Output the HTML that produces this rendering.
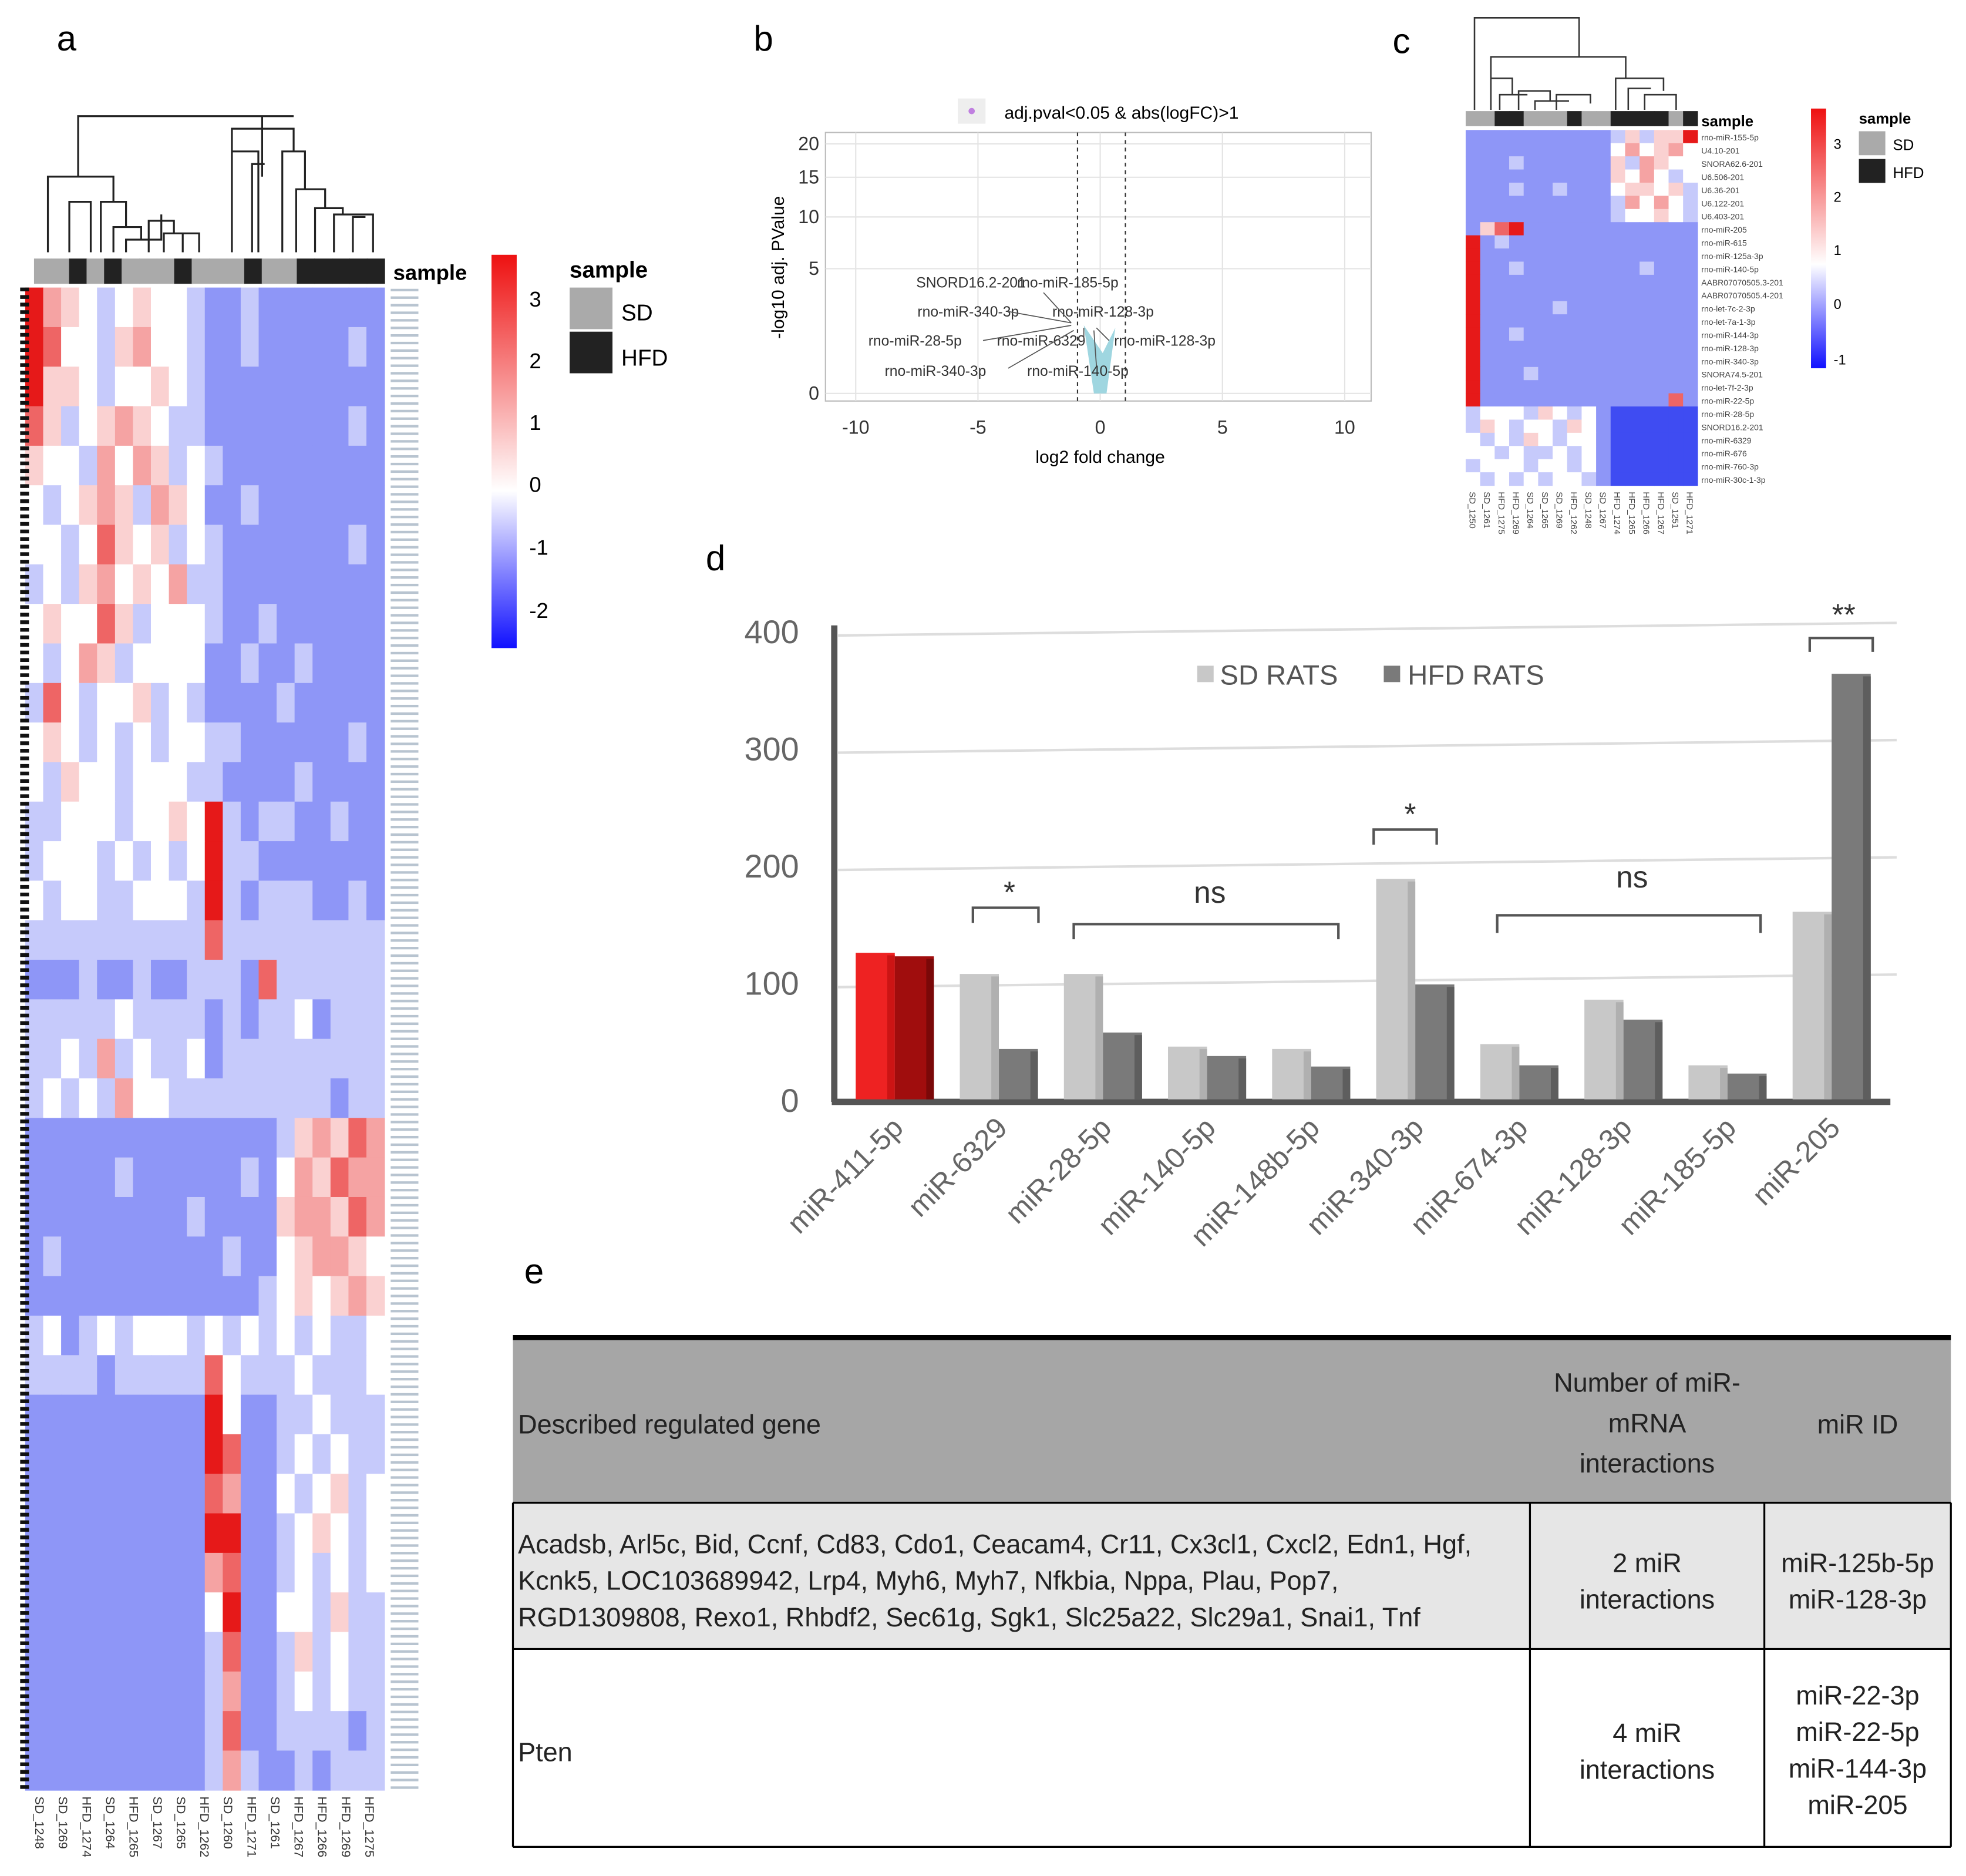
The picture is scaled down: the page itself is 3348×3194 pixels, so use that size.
<!DOCTYPE html>
<html><head><meta charset="utf-8">
<style>
html,body{margin:0;padding:0;background:#fff}
svg{display:block;font-family:"Liberation Sans",sans-serif}
</style></head>
<body>
<svg id="fig" width="3348" height="3194" viewBox="0 0 1560 1488" xmlns="http://www.w3.org/2000/svg">
<defs>
<linearGradient id="cbar" x1="0" y1="1" x2="0" y2="0">
<stop offset="0" stop-color="#1010ff"/><stop offset="0.4" stop-color="#ffffff"/><stop offset="1" stop-color="#ee1111"/>
</linearGradient>
</defs>
<g id="pa">
<text x="45" y="40" font-size="28">a</text>
<path fill="none" stroke="#222" stroke-width="1.5" d="M62,140V92H208V140 M38,200V140H90V160 M55,200V160H72V200 M80,200V160H100V180 M90,200V180H112V190 M100,200V190H128V170 M118,200V175H138V185 M130,200V185H158V200 M145,200V185H150 M184,200V102H233V120 M184,200V120H205V200 M200,200V130H210 M224,200V120H242V150 M235,200V150H258V165 M250,200V165H272V170 M265,200V170H296V200 M280,200V172H290 M208,102V92H233 M233,102V120"/>
<text x="312" y="222" font-size="17" font-weight="bold">sample</text>
<g>
<rect x="390" y="202" width="20" height="312" fill="url(#cbar)"/>
<text x="420" y="243" font-size="17">3</text><text x="420" y="292" font-size="17">2</text>
<text x="420" y="341" font-size="17">1</text><text x="420" y="390" font-size="17">0</text>
<text x="420" y="440" font-size="17">-1</text><text x="420" y="490" font-size="17">-2</text>
<text x="452" y="220" font-size="18" font-weight="bold">sample</text>
<rect x="452" y="228" width="34" height="33" fill="#aaa"/><text x="493" y="254" font-size="18">SD</text>
<rect x="452" y="263" width="34" height="33" fill="#222"/><text x="493" y="290" font-size="18">HFD</text>
</g>
<g id="hma"></g>
</g>

<g id="pb">
<text x="598" y="40" font-size="28">b</text>
<rect x="760" y="78" width="22" height="20" fill="#eee"/><circle cx="771" cy="88" r="2.5" fill="#c080e0"/>
<text x="797" y="94" font-size="14">adj.pval&lt;0.05 &amp; abs(logFC)&gt;1</text>
<rect x="655" y="105" width="433" height="213" fill="#fff" stroke="#bbb"/>
<g id="vgrid"></g>
<line x1="855" y1="105" x2="855" y2="318" stroke="#333" stroke-dasharray="3,3"/>
<line x1="893" y1="105" x2="893" y2="318" stroke="#333" stroke-dasharray="3,3"/>
<text x="873" y="367" font-size="14" text-anchor="middle">log2 fold change</text>
<text transform="translate(622,212) rotate(-90)" font-size="14" text-anchor="middle">-log10 adj. PValue</text>
<path d="M860,258 L875,280 L885,260 L878,312 L868,312 Z" fill="#9fd6e0"/>
<g font-size="11.5" fill="#333">
<text x="727" y="228">SNORD16.2-201</text><text x="807" y="228">rno-miR-185-5p</text>
<text x="728" y="251">rno-miR-340-3p</text><text x="835" y="251">rno-miR-128-3p</text>
<text x="689" y="274">rno-miR-28-5p</text><text x="791" y="274">rno-miR-6329</text><text x="884" y="274">rno-miR-128-3p</text>
<text x="702" y="298">rno-miR-340-3p</text><text x="815" y="298">rno-miR-140-5p</text>
</g>
<path d="M828,232 L850,256 M800,247 L850,256 M780,270 L850,258 M860,270 L860,260 M880,270 L870,260 M800,292 L852,262 M870,290 L868,262" stroke="#555" fill="none" stroke-width="0.8"/>
</g>

<g id="pc">
<text x="1105" y="42" font-size="28">c</text>
<path fill="none" stroke="#333" stroke-width="1.2" d="M1170,87V14H1253V45 M1183,87V45H1290V62 M1183,87V62H1200V75 M1190,87V75H1212 M1205,87V72H1230V80 M1218,87V80H1245 M1235,87V75H1262V82 M1282,87V62H1320V72 M1292,87V70H1310 M1305,87V75H1330V87"/>
<g id="hmc"></g>
<text x="1350" y="100" font-size="12" font-weight="bold">sample</text>
<g>
<rect x="1437" y="86" width="12" height="206" fill="url(#cbar)"/>
<text x="1455" y="118" font-size="11">3</text><text x="1455" y="160" font-size="11">2</text>
<text x="1455" y="202" font-size="11">1</text><text x="1455" y="245" font-size="11">0</text>
<text x="1455" y="289" font-size="11">-1</text>
<text x="1475" y="98" font-size="12" font-weight="bold">sample</text>
<rect x="1475" y="104" width="21" height="19" fill="#aaa"/><text x="1502" y="119" font-size="12">SD</text>
<rect x="1475" y="126" width="21" height="19" fill="#222"/><text x="1502" y="141" font-size="12">HFD</text>
</g>
</g>

<g id="pd">
<text x="560" y="452" font-size="28">d</text>
<g id="bars"></g>
<g>
<rect x="950" y="528" width="13" height="13" fill="#c8c8c8"/><text x="968" y="543" font-size="22" fill="#555">SD RATS</text>
<rect x="1098" y="528" width="13" height="13" fill="#7a7a7a"/><text x="1117" y="543" font-size="22" fill="#555">HFD RATS</text>
</g>
<g fill="none" stroke="#555" stroke-width="2">
<path d="M772,732V720H824V732"/><path d="M852,745V733H1062V745"/><path d="M1090,670V658H1140V670"/>
<path d="M1188,740V726H1397V740"/><path d="M1436,517V506H1486V517"/>
</g>
<g font-size="24" fill="#333" text-anchor="middle">
<text x="801" y="716">*</text><text x="960" y="716">ns</text><text x="1119" y="654">*</text>
<text x="1295" y="704">ns</text><text x="1463" y="496">**</text>
</g>
</g>

<g id="pe">
<text x="416" y="1018" font-size="28">e</text>
<rect x="407" y="1063" width="1141" height="129" fill="#a6a6a6"/>
<rect x="407" y="1192" width="1141" height="116" fill="#e6e6e6"/>
<line x1="407" y1="1061" x2="1548" y2="1061" stroke="#000" stroke-width="4"/>
<path d="M407,1192H1548 M407,1308H1548 M407,1465H1548 M407,1192V1465 M1548,1192V1465 M1214,1192V1465 M1400,1192V1465" stroke="#000" stroke-width="1.5" fill="none"/>
<g font-size="21" fill="#222">
<text x="411" y="1137">Described regulated gene</text>
<text x="1307" y="1104" text-anchor="middle">Number of miR-</text>
<text x="1307" y="1136" text-anchor="middle">mRNA</text>
<text x="1307" y="1168" text-anchor="middle">interactions</text>
<text x="1474" y="1137" text-anchor="middle">miR ID</text>
<text x="411" y="1232">Acadsb, Arl5c, Bid, Ccnf, Cd83, Cdo1, Ceacam4, Cr11, Cx3cl1, Cxcl2, Edn1, Hgf,</text>
<text x="411" y="1261">Kcnk5, LOC103689942,  Lrp4, Myh6, Myh7, Nfkbia, Nppa, Plau, Pop7,</text>
<text x="411" y="1290">RGD1309808,  Rexo1, Rhbdf2, Sec61g, Sgk1, Slc25a22, Slc29a1, Snai1, Tnf</text>
<text x="1307" y="1247" text-anchor="middle">2 miR</text><text x="1307" y="1276" text-anchor="middle">interactions</text>
<text x="1474" y="1247" text-anchor="middle">miR-125b-5p</text><text x="1474" y="1276" text-anchor="middle">miR-128-3p</text>
<text x="411" y="1397">Pten</text>
<text x="1307" y="1382" text-anchor="middle">4 miR</text><text x="1307" y="1411" text-anchor="middle">interactions</text>
<text x="1474" y="1352" text-anchor="middle">miR-22-3p</text><text x="1474" y="1381" text-anchor="middle">miR-22-5p</text>
<text x="1474" y="1410" text-anchor="middle">miR-144-3p</text><text x="1474" y="1439" text-anchor="middle">miR-205</text>
</g>
</g>
</svg>
<script>
const NS="http://www.w3.org/2000/svg";
function mk(tag,attrs,parent){const e=document.createElementNS(NS,tag);for(const k in attrs)e.setAttribute(k,attrs[k]);parent.appendChild(e);return e;}
function col(v){
  let r,g,b;
  if(v>=0){const t=Math.min(v/3,1);r=255-t*(255-230);g=255-t*(255-25);b=255-t*(255-25);}
  else{const t=Math.min(-v/2,1);r=255-t*(255-30);g=255-t*(255-45);b=255-t*(255-240);}
  return `rgb(${r|0},${g|0},${b|0})`;
}
const hmaCodes={a:-1.7,b:-1.0,c:-0.5,d:0,e:0.6,f:1.2,g:2,h:3};
const hmaSamples=["SD","SD","HFD","SD","HFD","SD","SD","SD","HFD","SD","SD","SD","HFD","SD","SD","HFD","HFD","HFD","HFD","HFD"];
const hmaRows=[
"hfedcdeddcbbcbbbbbbb","hgddcefddcbbcbbbbbcb","heedcddedcbbbbbbbbbb","gecdefedccbbbbbbbbcb",
"eddcfdfecdcbbbbbbbbb","dcdefecfedbbcbbbbbbb","ddcdgedecdcbbbbbbbcb","cdcefdedfccbbbbbbbbb",
"deddgecdddcbbcbbbbbb","dcdfecddddbbcbbcbbbb","cgdcddecdcbbbbcbbbbb","dedcdcdcddccbbbbbbcb",
"dceddcdddccbbbbcbbbb","ccdddcddedhcbccbbcbb","cdddcdcdcdhccbbbbbbb","dcddccdddchcbcccbbcb",
"ccccccccccgccccccccc","bbbcbbcbbcccbgcccccc","cccccdccccbcbccdbccc","ccdcfcdccdbccccccccc",
"cdcdcfddcccccccccbcc","bbbbbbbbbbbbbbcefegf","bbbbbcbbbbbbcbdfegff","bbbbbbbbbcbbbbeffegf",
"bcbbbbbbbbbcbbdeffed","bbbbbbbbbbbbbcdedefe","cdbcdcdddcdcdcdcdccd","ccccbcccccgdcccdcccd",
"bbbbbbbbbbhdbbccdccc","bbbbbbbbbbhgbbcdcdcc","bbbbbbbbbbgfbbdcdecd","bbbbbbbbbbhhbbcdedcd",
"bbbbbbbbbbfgbbcdcdcd","bbbbbbbbbbdhbbddcecc","bbbbbbbbbbcgbbcecdcc","bbbbbbbbbbcfbbcdcdcc",
"bbbbbbbbbbcgbbccccbc","bbbbbbbbbbcfcbbcbccc"
];
const hmaLabels=["SD_1248","SD_1269","HFD_1274","SD_1264","HFD_1265","SD_1267","SD_1265","HFD_1262","SD_1260","HFD_1271","SD_1261","HFD_1267","HFD_1266","HFD_1269","HFD_1275"];
(function(){
  const g=document.getElementById('hma');
  const x0=20,x1=305,y0=228,y1=1420;
  const cw=(x1-x0)/hmaSamples.length, rh=(y1-y0)/hmaRows.length;
  hmaSamples.forEach((s,i)=>{
    const r=mk('rect',{x:x0+7+i*(x1-x0-7)/hmaSamples.length,y:205,width:(x1-x0-7)/hmaSamples.length+0.5,height:20,fill:s==="SD"?"#aaa":"#222"},g);
    
    
  });
  hmaRows.forEach((row,ri)=>{
    for(let ci=0;ci<row.length;ci++){
      const c=mk('rect',{x:x0+ci*cw,y:y0+ri*rh,width:cw+0.4,height:rh+0.4,fill:col(hmaCodes[row[ci]])},g);
      
      
    }
  });
  for(let y=y0;y<y1;y+=6){mk('rect',{x:16,y:y,width:7,height:3,fill:'#111'},g);mk('rect',{x:310,y:y+1,width:22,height:2,fill:'#b8c4d0'},g);}
  hmaLabels.forEach((l,i)=>{
    const t=mk('text',{transform:`translate(${28+i*18.7},1425) rotate(90)`,'font-size':10,fill:'#333'},g);
    t.textContent=l;
    
    
  });
})();
const vxTicks=[-10,-5,0,5,10];
const vyTicks=[0,5,10,15,20];
(function(){
  const g=document.getElementById('vgrid');
  const xs=v=>873+v*19.4;
  const ys=v=>312-Math.sqrt(v/20)*198;
  vxTicks.forEach(v=>{mk('line',{x1:xs(v),y1:105,x2:xs(v),y2:318,stroke:'#e4e4e4'},g);
    const t=mk('text',{x:xs(v),y:344,'font-size':15,'text-anchor':'middle',fill:'#333'},g);t.textContent=v;
    });
  vyTicks.forEach(v=>{mk('line',{x1:655,y1:ys(v),x2:1088,y2:ys(v),stroke:'#e4e4e4'},g);
    const t=mk('text',{x:650,y:ys(v)+5,'font-size':15,'text-anchor':'end',fill:'#333'},g);t.textContent=v;
    });
})();
const hmcSamples=["SD","SD","HFD","HFD","SD","SD","SD","HFD","SD","SD","HFD","HFD","HFD","HFD","SD","HFD"];
const hmcRows=[
"bbbbbbbbbbceceeh","bbbbbbbbbbdfdefd","bbbcbbbbbbecfedd","bbbbbbbbbbedfdcd","bbbcbbcbbbdeedec",
"bbbbbbbbbbcfdfdc","bbbbbbbbbbcddedc","beghbbbbbbbbbbbb","hbcbbbbbbbbbbbbb","hbbbbbbbbbbbbbbb",
"hbbcbbbbbbbbcbbb","hbbbbbbbbbbbbbbb","hbbbbbbbbbbbbbbb","hbbbbbcbbbbbbbbb","hbbbbbbbbbbbbbbb",
"hbbcbbbbbbbbbbbb","hbbbbbbbbbbbbbbb","hbbbbbbbbbbbbbbb","hbbbcbbbbbbbbbbb","hbbbbbbbbbbbbbbb",
"hbbbbbbbbbbbbbgb","cdddcedcdbaaaaaa","cedcddcedbaaaaaa","dcdcedcddbaaaaaa","ddcdccdcdbaaaaaa",
"cdddcddcdbaaaaaa","dcdcdcddcbaaaaaa"
];
const hmcLabels=["SD_1250","SD_1261","HFD_1275","HFD_1269","SD_1264","SD_1265","SD_1269","HFD_1262","SD_1248","SD_1267","HFD_1274","HFD_1265","HFD_1266","HFD_1267","SD_1251","HFD_1271"];
const hmcRowLabels=["rno-miR-155-5p","U4.10-201","SNORA62.6-201","U6.506-201","U6.36-201","U6.122-201","U6.403-201","rno-miR-205","rno-miR-615","rno-miR-125a-3p","rno-miR-140-5p","AABR07070505.3-201","AABR07070505.4-201","rno-let-7c-2-3p","rno-let-7a-1-3p","rno-miR-144-3p","rno-miR-128-3p","rno-miR-340-3p","SNORA74.5-201","rno-let-7f-2-3p","rno-miR-22-5p","rno-miR-28-5p","SNORD16.2-201","rno-miR-6329","rno-miR-676","rno-miR-760-3p","rno-miR-30c-1-3p"];
(function(){
  const g=document.getElementById('hmc');
  const x0=1163,x1=1347,y0=103,y1=385;
  const cw=(x1-x0)/hmcSamples.length, rh=(y1-y0)/hmcRows.length;
  hmcSamples.forEach((s,i)=>{const r=mk('rect',{x:x0+i*cw,y:88,width:cw+0.3,height:12,fill:s==="SD"?"#aaa":"#222"},g);
    });
  hmcRows.forEach((row,ri)=>{for(let ci=0;ci<row.length;ci++){
    const c=mk('rect',{x:x0+ci*cw,y:y0+ri*rh,width:cw+0.3,height:rh+0.3,fill:col(hmaCodes[row[ci]])},g);
    }});
  hmcRowLabels.forEach((l,i)=>{const t=mk('text',{x:1350,y:y0+(i+0.8)*rh,'font-size':6.5,fill:'#444'},g);t.textContent=l;
    });
  hmcLabels.forEach((l,i)=>{const t=mk('text',{transform:`translate(${x0+3+i*cw},390) rotate(90)`,'font-size':7,fill:'#444'},g);t.textContent=l;
    });
})();
const categories=["miR-411-5p","miR-6329","miR-28-5p","miR-140-5p","miR-148b-5p","miR-340-3p","miR-674-3p","miR-128-3p","miR-185-5p","miR-205"];
const sdValues=[125,107,107,45,43,188,47,85,29,160];
const hfdValues=[122,43,57,37,28,98,29,68,22,363];
const yTicks=[0,100,200,300,400];
(function(){
  const g=document.getElementById('bars');
  const y=v=>872-v*0.93;
  const xc=i=>710+i*82.6;
  yTicks.forEach(v=>{
    if(v>0){const l=mk('line',{x1:665,y1:y(v)+4,x2:1505,y2:y(v)-6,stroke:'#ddd','stroke-width':2},g);
      }
    const t=mk('text',{x:634,y:y(v)+10,'font-size':26,'text-anchor':'end',fill:'#666'},g);t.textContent=v;
    
  });
  mk('line',{x1:662,y1:496,x2:662,y2:874,stroke:'#555','stroke-width':5},g);
  mk('line',{x1:660,y1:874,x2:1500,y2:874,stroke:'#555','stroke-width':5},g);
  categories.forEach((c,i)=>{
    const w=31;
    const b1=mk('rect',{x:xc(i)-w,y:y(sdValues[i]),width:w,height:sdValues[i]*0.93,fill:i===0?'#ee2222':'#c8c8c8'},g);
    
    mk('rect',{x:xc(i)-6,y:y(sdValues[i])+2,width:6,height:sdValues[i]*0.93-2,fill:i===0?'#cc1414':'#b0b0b0'},g);
    const b2=mk('rect',{x:xc(i),y:y(hfdValues[i]),width:w,height:hfdValues[i]*0.93,fill:i===0?'#a00d0d':'#7a7a7a'},g);
    
    mk('rect',{x:xc(i)+w-6,y:y(hfdValues[i])+2,width:6,height:hfdValues[i]*0.93-2,fill:i===0?'#7a0808':'#5e5e5e'},g);
    const t=mk('text',{transform:`translate(${xc(i)+8},896) rotate(-45)`,'font-size':23,'text-anchor':'end',fill:'#666'},g);
    t.textContent=c;
    
  });
})();
</script>
</body></html>
